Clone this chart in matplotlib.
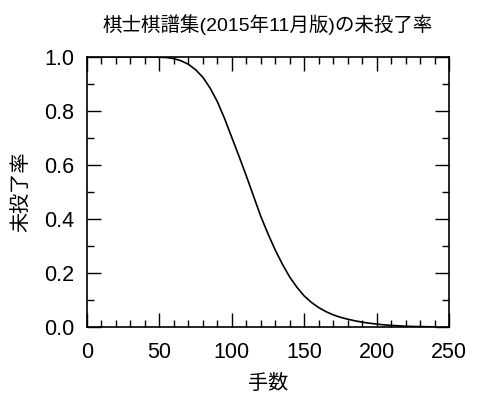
import matplotlib
matplotlib.use("Agg")
import matplotlib.pyplot as plt
from matplotlib.ticker import MultipleLocator

plt.rcParams['font.family'] = ['Liberation Sans', 'Noto Sans CJK JP', 'DejaVu Sans']

moves = [0, 5, 10, 15, 20, 25, 30, 35, 40, 45, 50, 55, 60, 65, 70, 75, 80, 85, 90, 95,
         100, 105, 110, 115, 120, 125, 130, 135, 140, 145, 150, 155, 160, 165, 170, 175,
         180, 185, 190, 195, 200, 205, 210, 215, 220, 225, 230, 235, 240]
rate = [1.0, 1.0, 1.0, 1.0, 1.0, 1.0, 1.0, 1.0, 1.0, 1.0, 0.999, 0.998, 0.994, 0.986,
        0.973, 0.953, 0.925, 0.885, 0.835, 0.772, 0.702, 0.632, 0.56, 0.485, 0.41,
        0.345, 0.285, 0.232, 0.185, 0.147, 0.115, 0.091, 0.072, 0.057, 0.045, 0.036,
        0.029, 0.023, 0.018, 0.014, 0.011, 0.008, 0.006, 0.0045, 0.003, 0.002, 0.0015,
        0.001, 0.0005]

title = "棋士棋譜集(2015年11月版)の未投了率"
xlabel = "手数"
ylabel = "未投了率"

fig = plt.figure(figsize=(4.8, 4.03), dpi=100)
ax = fig.add_axes([87/480, 1 - 327/403, (449-87)/480, (327-57)/403])
ax.plot(moves, rate, color='black', lw=1.2)
ax.set_xlim(0, 250)
ax.set_ylim(0, 1.0)
ax.xaxis.set_major_locator(MultipleLocator(50))
ax.xaxis.set_minor_locator(MultipleLocator(10))
ax.yaxis.set_major_locator(MultipleLocator(0.2))
ax.yaxis.set_minor_locator(MultipleLocator(0.1))
ax.yaxis.set_major_formatter(matplotlib.ticker.FormatStrFormatter('%.1f'))
ax.tick_params(which='both', direction='in', top=True, right=True, width=1, labelsize=15.5)
ax.tick_params(which='major', length=10)
ax.tick_params(axis='x', which='major', pad=11)
ax.tick_params(axis='y', which='major', pad=9)
ax.tick_params(which='minor', length=5)
for s in ax.spines.values():
    s.set_linewidth(1.2)
ax.set_title(title, fontsize=14, pad=19)
ax.set_xlabel(xlabel, fontsize=14.5, labelpad=8)
ax.set_ylabel(ylabel, fontsize=14.5, labelpad=10)
fig.savefig("out.png", dpi=100)
